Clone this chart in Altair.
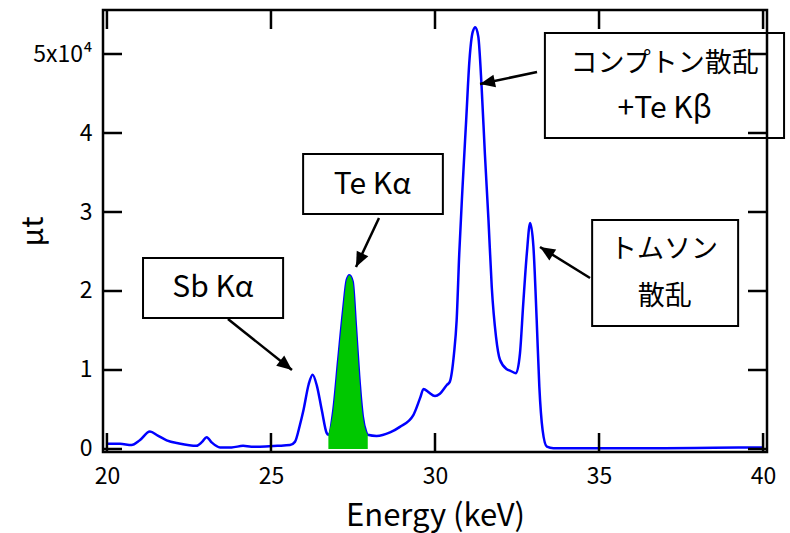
import altair as alt
import pandas as pd

# ---- spectrum (Energy keV, mu t) ----
energy = [20.00, 20.40, 20.75, 21.00, 21.31, 21.55, 21.82, 22.20, 22.73, 22.90,
          23.04, 23.20, 23.45, 23.80, 24.15, 24.40, 24.66, 25.20, 25.58, 25.73,
          25.88, 25.99, 26.15, 26.27, 26.40, 26.55, 26.70, 26.75, 26.90, 27.05,
          27.20, 27.31, 27.39, 27.49, 27.59, 27.69, 27.80, 27.90, 27.95, 28.22,
          28.63, 28.93, 29.34, 29.55, 29.65, 29.80, 30.00, 30.15, 30.36, 30.45,
          30.58, 30.66, 30.74, 30.84, 30.95, 31.05, 31.15, 31.23, 31.32, 31.42,
          31.52, 31.63, 31.73, 31.86, 31.98, 32.19, 32.30, 32.47, 32.59, 32.69,
          32.80, 32.90, 33.00, 33.10, 33.18, 33.28, 33.41, 33.61, 35.00, 37.00,
          38.50, 40.00]
mu_t = [650, 650, 500, 1100, 2200, 1700, 1100, 700, 400, 900,
        1500, 800, 200, 200, 400, 300, 300, 400, 500, 900,
        3000, 4900, 8200, 9400, 8000, 4900, 2000, 1800, 4900, 11300,
        17600, 21400, 22000, 21200, 15500, 9200, 4100, 2200, 1800, 1650,
        2100, 2800, 4300, 6500, 7600, 7200, 6700, 7000, 8100, 8500,
        12100, 16300, 24800, 33200, 41600, 49200, 52800, 53400, 52200, 45900,
        37400, 29000, 20500, 14200, 11300, 10100, 9900, 9600, 12100, 18400,
        24800, 28600, 25600, 16300, 7900, 2400, 300, 100, 100, 100,
        150, 200]

# ---- Te K-alpha highlighted region ----
te_energy = [26.75, 26.90, 27.05, 27.20, 27.31, 27.39, 27.49, 27.59, 27.69, 27.80, 27.90, 27.95]
te_mu = [1800, 4900, 11300, 17600, 21400, 22000, 21200, 15500, 9200, 4100, 2200, 1800]

# ---- ticks ----
x_ticks = [20, 25, 30, 35, 40]
y_ticks = [0, 10000, 20000, 30000, 40000, 50000]

# ---- annotation boxes (data coords) ----
box_x0 = [21.10, 25.98, 33.35, 34.79]
box_x1 = [25.37, 30.24, 40.64, 39.24]
box_y0 = [24180, 37340, 52660, 28990]
box_y1 = [16580, 29750, 39370, 15570]

# ---- annotation texts ----
txt_label = ["Sb Kα", "Te Kα", "コンプトン散乱", "+Te Kβ", "トムソン", "散乱"]
txt_x = [23.23, 28.09, 37.00, 37.00, 36.98, 37.00]
txt_y = [20380, 33480, 48730, 43040, 25150, 19280]
txt_size = [30, 30, 27, 30, 27, 27]

# ---- arrows ----
arr_x0 = [23.689, 28.293, 33.110, 34.726]
arr_y0 = [16460, 29240, 47720, 21650]
arr_x1 = [25.640, 27.591, 31.372, 33.201]
arr_y1 = [10000, 23040, 46200, 25570]
arr_ang = [38.6, 116.0, 168.4, 211.8]

FONT = "Noto Sans CJK JP"
W, H = 664, 442
TICK = 19

spec = pd.DataFrame({"E": energy, "V": mu_t})
te = pd.DataFrame({"E": te_energy, "V": te_mu})
xt = pd.DataFrame({"t": x_ticks})
yt = pd.DataFrame({"t": y_ticks})
boxes = pd.DataFrame({"x0": box_x0, "x1": box_x1, "y0": box_y0, "y1": box_y1})
texts = pd.DataFrame({"label": txt_label, "x": txt_x, "y": txt_y, "fs": txt_size})
arrows = pd.DataFrame({"x0": arr_x0, "y0": arr_y0, "x1": arr_x1, "y1": arr_y1, "ang": arr_ang})

xs = alt.Scale(domain=[19.88, 40.12], nice=False, zero=False)
ys = alt.Scale(domain=[-380, 55570], nice=False, zero=False)

XAX = alt.Axis(
    values=x_ticks, ticks=False, domain=False, grid=False, labelFlush=False,
    labelFontSize=23, labelPadding=13, title="Energy (keV)", titleFontSize=31,
    titleFontWeight="normal", titleBaseline="middle", titleY=64)
YAX = alt.Axis(
    values=y_ticks, ticks=False, domain=False, grid=False,
    labelExpr="datum.value == 50000 ? '5x10⁴' : format(datum.value / 10000, 'd')",
    labelFontSize=23, labelPadding=11, title="μt", titleFontSize=30,
    titleFontWeight="normal", titleAngle=270, titleAlign="center",
    titleBaseline="middle", titleX=-70, titleY=221)


def X(f):
    return alt.X(f, scale=xs, axis=XAX)


def Y(f):
    return alt.Y(f, scale=ys, axis=YAX)


line = alt.Chart(spec).mark_line(color="#0000ff", strokeWidth=2.5, interpolate="monotone").encode(
    x=X("E:Q"), y=Y("V:Q"))

green = alt.Chart(te).mark_area(color="#00c800", interpolate="monotone", opacity=1).encode(
    x=X("E:Q"), y=Y("V:Q"), y2=alt.datum(0))

tick_style = dict(color="black", strokeWidth=2.5)
t_bottom = alt.Chart(xt).mark_rule(**tick_style).encode(
    x=X("t:Q"), y=alt.value(H), y2=alt.value(H - TICK))
t_top = alt.Chart(xt).mark_rule(**tick_style).encode(
    x=X("t:Q"), y=alt.value(0), y2=alt.value(TICK))
t_left = alt.Chart(yt).mark_rule(**tick_style).encode(
    y=Y("t:Q"), x=alt.value(0), x2=alt.value(TICK))
t_right = alt.Chart(yt).mark_rule(**tick_style).encode(
    y=Y("t:Q"), x=alt.value(W), x2=alt.value(W - TICK))

rects = alt.Chart(boxes).mark_rect(filled=False, stroke="black", strokeWidth=2).encode(
    x=X("x0:Q"), x2="x1:Q", y=Y("y0:Q"), y2="y1:Q")

labels = alt.Chart(texts).mark_text(font=FONT, align="center", baseline="middle", color="black").encode(
    x=X("x:Q"), y=Y("y:Q"), text="label:N",
    size=alt.Size("fs:Q", scale=None, legend=None))

shafts = alt.Chart(arrows).mark_rule(color="black", strokeWidth=2.5).encode(
    x=X("x0:Q"), x2="x1:Q", y=Y("y0:Q"), y2="y1:Q")

heads = alt.Chart(arrows).mark_point(
    shape="M0,0 L-1,-0.43 L-1,0.43 Z", filled=True, color="black", opacity=1, size=900
).encode(
    x=X("x1:Q"), y=Y("y1:Q"), angle=alt.Angle("ang:Q", scale=None))

chart = alt.layer(line, green, t_bottom, t_top, t_left, t_right, rects, labels, shafts, heads).properties(
    width=W, height=H,
    padding={"left": 103, "top": 10, "right": 23, "bottom": 81},
    autosize=alt.AutoSizeParams(type="none"),
).configure_view(
    stroke="black", strokeWidth=2.5
).configure_axis(
    labelFont=FONT, titleFont=FONT, labelColor="black", titleColor="black"
)

chart.save("out.html", embed_options={"renderer": "svg", "actions": False})
